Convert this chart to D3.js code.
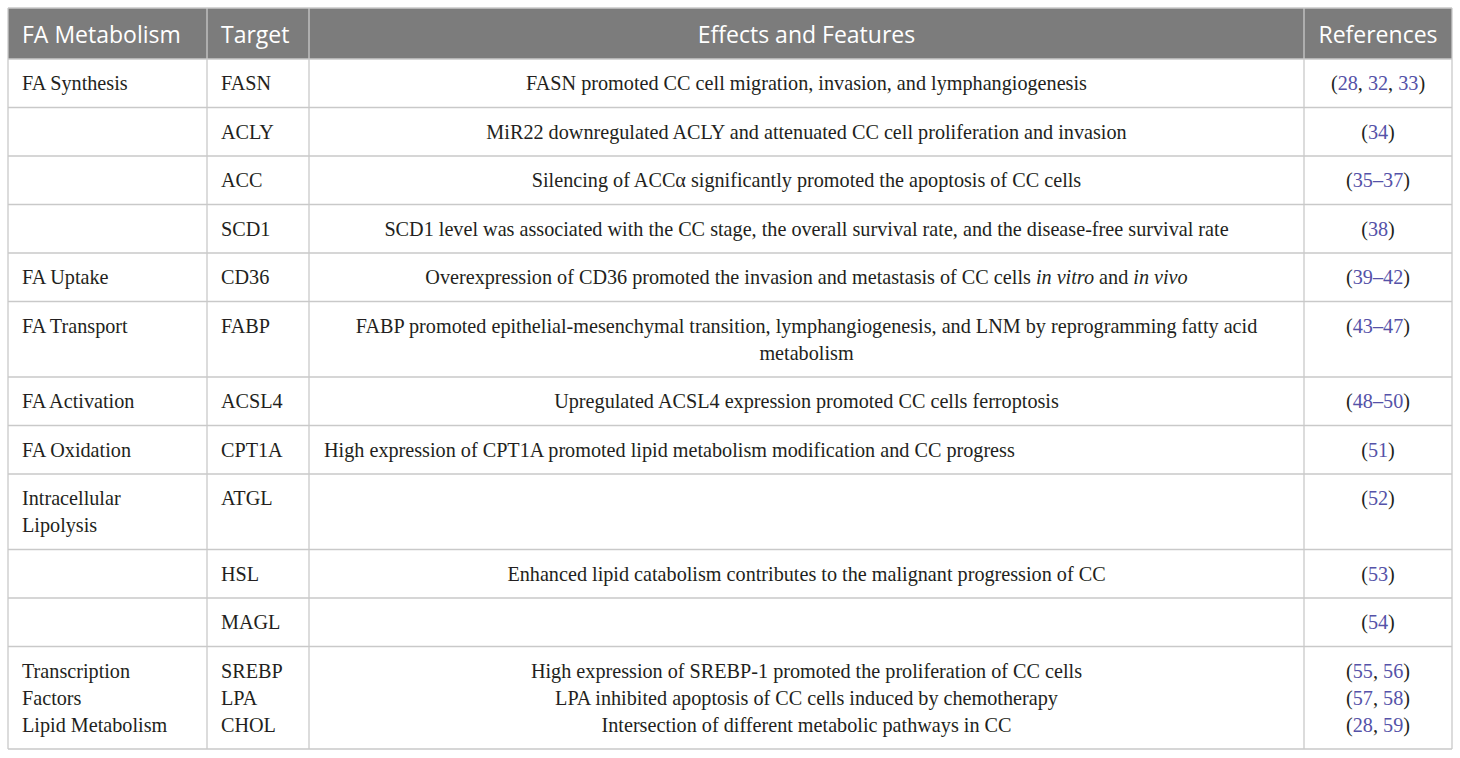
<!DOCTYPE html>
<html>
<head>
<meta charset="utf-8">
<script src="https://cdn.jsdelivr.net/npm/d3@7"></script>
<style>
  body { margin: 0; background: #fff; }
  .hd { font-family: "Open Sans", sans-serif; font-size: 23px; fill: #fff; }
  .cell { font-family: "Liberation Serif", serif; font-size: 20.2px; fill: #231f20; }
  .ref { fill: #5552a8; }
  .grid { stroke: #c9c9c9; stroke-width: 1.3; }
</style>
</head>
<body>
<div id="chart"></div>
<script>
// column headings
var headers = ['FA Metabolism', 'Target', 'Effects and Features', 'References'];

// one entry per table row; multi-line cells are arrays of lines
var metabolism = [
  ['FA Synthesis'], [], [], [],
  ['FA Uptake'],
  ['FA Transport'],
  ['FA Activation'],
  ['FA Oxidation'],
  ['Intracellular', 'Lipolysis'],
  [], [],
  ['Transcription', 'Factors', 'Lipid Metabolism']
];
var targets = [
  ['FASN'], ['ACLY'], ['ACC'], ['SCD1'], ['CD36'], ['FABP'], ['ACSL4'],
  ['CPT1A'], ['ATGL'], ['HSL'], ['MAGL'], ['SREBP', 'LPA', 'CHOL']
];
// words between underscores are italic
var effects = [
  ['FASN promoted CC cell migration, invasion, and lymphangiogenesis'],
  ['MiR22 downregulated ACLY and attenuated CC cell proliferation and invasion'],
  ['Silencing of ACC\u03b1 significantly promoted the apoptosis of CC cells'],
  ['SCD1 level was associated with the CC stage, the overall survival rate, and the disease-free survival rate'],
  ['Overexpression of CD36 promoted the invasion and metastasis of CC cells _in vitro_ and _in vivo_'],
  ['FABP promoted epithelial-mesenchymal transition, lymphangiogenesis, and LNM by reprogramming fatty acid', 'metabolism'],
  ['Upregulated ACSL4 expression promoted CC cells ferroptosis'],
  ['High expression of CPT1A promoted lipid metabolism modification and CC progress'],
  [],
  ['Enhanced lipid catabolism contributes to the malignant progression of CC'],
  [],
  ['High expression of SREBP-1 promoted the proliferation of CC cells',
   'LPA inhibited apoptosis of CC cells induced by chemotherapy',
   'Intersection of different metabolic pathways in CC']
];
var effectAlign = ['middle','middle','middle','middle','middle','middle','middle','start','middle','middle','middle','middle'];
var refs = [
  [['28', '32', '33']], [['34']], [['35\u201337']], [['38']], [['39\u201342']],
  [['43\u201347']], [['48\u201350']], [['51']], [['52']], [['53']], [['54']],
  [['55', '56'], ['57', '58'], ['28', '59']]
];

var W = 1460, H = 758;
var x0 = 8, y0 = 8, headH = 51;
var colW = [199, 102, 995, 148];
var pad = 14, lineH = 27, rowPad = 21.5, firstBase = 31, textStep = 27;

var colX = [x0];
colW.forEach(function(w, i){ colX.push(colX[i] + w); });

var nLines = metabolism.map(function(d, i){
  return Math.max(d.length, targets[i].length, effects[i].length, refs[i].length, 1);
});
var rowTop = [y0 + headH];
nLines.forEach(function(n, i){ rowTop.push(rowTop[i] + rowPad + lineH * n); });
var bottom = rowTop[rowTop.length - 1];

var svg = d3.select('#chart').append('svg').attr('width', W).attr('height', H);

// header band
svg.append('rect').attr('x', x0).attr('y', y0)
  .attr('width', colX[4] - x0).attr('height', headH).attr('fill', '#7c7c7c');

var hAnchor = ['start', 'start', 'middle', 'middle'];
function colAnchorX(c, a){
  if (a === 'start') return colX[c] + pad;
  return (colX[c] + colX[c + 1]) / 2;
}
svg.append('g').selectAll('text')
  .data(headers)
  .enter()
  .append('text')
    .attr('class', 'hd')
    .attr('text-anchor', function(d, i){ return hAnchor[i]; })
    .attr('x', function(d, i){ return colAnchorX(i, hAnchor[i]); })
    .attr('y', y0 + 35)
    .text(function(d){ return d; });

// grid lines
var grid = svg.append('g');
grid.selectAll('.h')
  .data(rowTop)
  .enter()
  .append('line')
    .attr('class', 'grid')
    .attr('x1', x0).attr('x2', colX[4])
    .attr('y1', function(d){ return d; }).attr('y2', function(d){ return d; });
grid.append('line').attr('class', 'grid')
  .attr('x1', x0).attr('x2', colX[4]).attr('y1', y0).attr('y2', y0);
grid.selectAll('.v')
  .data(colX)
  .enter()
  .append('line')
    .attr('class', 'grid')
    .attr('x1', function(d){ return d; }).attr('x2', function(d){ return d; })
    .attr('y1', y0).attr('y2', bottom);

// body rows
var rows = svg.append('g').selectAll('g')
  .data(d3.range(metabolism.length))
  .enter()
  .append('g')
    .attr('transform', function(i){ return 'translate(0,' + (rowTop[i] + firstBase) + ')'; });

function plainCol(arr, c){
  rows.each(function(i){
    d3.select(this).selectAll('text.c' + c)
      .data(arr[i])
      .enter()
      .append('text')
        .attr('class', 'cell c' + c)
        .attr('x', colX[c] + pad)
        .attr('y', function(d, k){ return k * textStep; })
        .text(function(d){ return d; });
  });
}
plainCol(metabolism, 0);
plainCol(targets, 1);

rows.each(function(i){
  var t = d3.select(this).selectAll('text.c2')
    .data(effects[i])
    .enter()
    .append('text')
      .attr('class', 'cell c2')
      .attr('text-anchor', effectAlign[i])
      .attr('x', colAnchorX(2, effectAlign[i]) + (effectAlign[i] === 'start' ? 1 : 0))
      .attr('y', function(d, k){ return k * textStep; });
  t.each(function(line){
    var el = d3.select(this);
    line.split('_').forEach(function(seg, j){
      if (!seg) return;
      el.append('tspan').attr('font-style', j % 2 ? 'italic' : 'normal').text(seg);
    });
  });
});

rows.each(function(i){
  var t = d3.select(this).selectAll('text.c3')
    .data(refs[i])
    .enter()
    .append('text')
      .attr('class', 'cell c3')
      .attr('text-anchor', 'middle')
      .attr('x', colAnchorX(3, 'middle'))
      .attr('y', function(d, k){ return k * textStep; });
  t.each(function(nums){
    var el = d3.select(this);
    el.append('tspan').text('(');
    nums.forEach(function(n, j){
      if (j) el.append('tspan').text(', ');
      el.append('tspan').attr('class', 'ref').text(n);
    });
    el.append('tspan').text(')');
  });
});
</script>
</body>
</html>
